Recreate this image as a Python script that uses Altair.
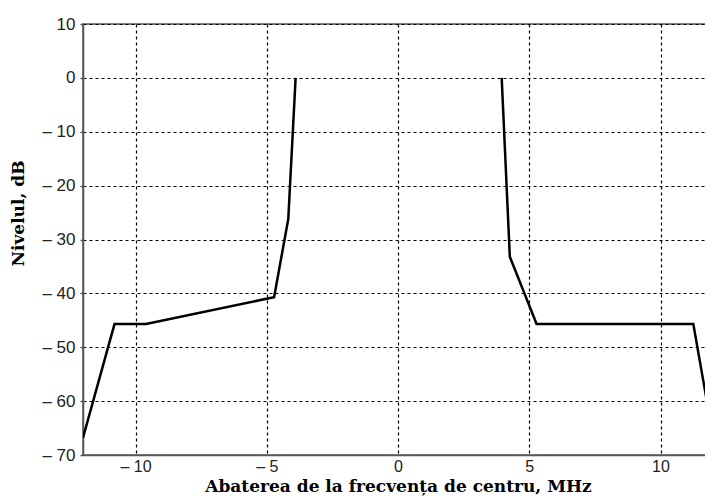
import altair as alt
import pandas as pd

freq = [-12.0, -10.8, -9.6, -4.72, -4.18, -3.9, 3.95, 4.26, 5.28, 11.25, 12.0]
level = [-66.8, -45.7, -45.7, -40.7, -26.2, 0.0, 0.0, -33.2, -45.7, -45.7, -66.5]
segment = ["L", "L", "L", "L", "L", "L", "R", "R", "R", "R", "R"]

df = pd.DataFrame({"f": freq, "lvl": level, "seg": segment, "order": list(range(len(freq)))})

x_ticks = [-10, -5, 0, 5, 10]
y_ticks = [10, 0, -10, -20, -30, -40, -50, -60, -70]

label_expr = "datum.value < 0 ? '\u2013\u00a0' + abs(datum.value) : '' + datum.value"

chart = alt.Chart(df).mark_line(color="black", strokeWidth=2.5, clip=True).encode(
    x=alt.X("f:Q", scale=alt.Scale(domain=[-12, 12], nice=False, zero=False),
            axis=alt.Axis(values=x_ticks, title="Abaterea de la frecvența de centru, MHz",
                          labelExpr=label_expr, ticks=False, labelPadding=3, labelFontSize=16,
                          titleFont="DejaVu Serif", titleFontSize=17, titleFontWeight="bold",
                          titleColor="black", titleY=36, titleBaseline="alphabetic")),
    y=alt.Y("lvl:Q", scale=alt.Scale(domain=[-70, 10], nice=False, zero=False),
            axis=alt.Axis(values=y_ticks, title="Nivelul, dB", labelExpr=label_expr,
                          tickSize=3, labelPadding=5,
                          titleFont="DejaVu Serif", titleFontSize=17, titleFontWeight="bold",
                          titleColor="black", titleX=-65, titleY=189, titleAngle=-90,
                          titleBaseline="middle", titleAlign="center")),
    detail="seg:N",
    order="order:Q",
).properties(
    width=630, height=431,
    autosize=alt.AutoSizeParams(type="none"),
    padding={"left": 75, "top": 16, "right": -8, "bottom": 41},
).configure_view(
    stroke="#555", strokeWidth=1.5
).configure_axis(
    labelFont="Liberation Sans", labelFontSize=17, labelColor="#222",
    domainColor="#555", domainWidth=1.5, tickColor="#555", tickWidth=1.5,
    grid=True, gridColor="black", gridDash=[3, 3], gridWidth=1.2, gridOpacity=1,
)

chart.save("out.html", embed_options={"renderer": "svg", "actions": False})
